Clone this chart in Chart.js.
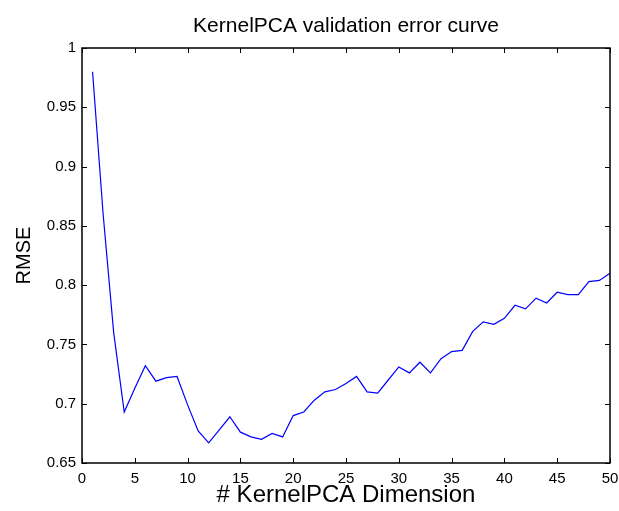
<!DOCTYPE html>
<html>
<head>
<meta charset="utf-8">
<script src="https://cdn.jsdelivr.net/npm/chart.js@4.4.0/dist/chart.umd.min.js"></script>
<style>
  body { margin: 0; background: #fff; }
  canvas { display: block; }
</style>
</head>
<body>
<canvas id="chart" width="619" height="511"></canvas>
<script>
// data
const dims = [];
for (let i = 1; i <= 50; i++) dims.push(i);
const rmse = [
  0.980, 0.860, 0.760, 0.693, 0.713, 0.732, 0.719, 0.722, 0.723, 0.699,
  0.677, 0.667, 0.678, 0.689, 0.676, 0.672, 0.670, 0.675, 0.672, 0.690,
  0.693, 0.703, 0.710, 0.712, 0.717, 0.723, 0.710, 0.709, 0.720, 0.731,
  0.726, 0.735, 0.726, 0.738, 0.744, 0.745, 0.761, 0.769, 0.767, 0.772,
  0.783, 0.780, 0.789, 0.785, 0.794, 0.792, 0.792, 0.803, 0.804, 0.810
];
const xTicks = [0, 5, 10, 15, 20, 25, 30, 35, 40, 45, 50];
const yTicks = [0.65, 0.7, 0.75, 0.8, 0.85, 0.9, 0.95, 1];

const FONT = "'Liberation Sans', Arial, sans-serif";

// matlab style box with inward ticks on all four sides
const boxTicks = {
  id: 'boxTicks',
  afterDatasetsDraw(chart) {
    const { ctx, chartArea: a, scales: { x, y } } = chart;
    ctx.save();
    ctx.strokeStyle = '#000';
    ctx.lineWidth = 1.5;
    ctx.strokeRect(a.left, a.top, a.right - a.left, a.bottom - a.top);
    ctx.lineWidth = 1;
    ctx.beginPath();
    xTicks.forEach(v => {
      const px = Math.round(x.getPixelForValue(v)) + 0.5;
      ctx.moveTo(px, a.bottom); ctx.lineTo(px, a.bottom - 5);
      ctx.moveTo(px, a.top); ctx.lineTo(px, a.top + 5);
    });
    yTicks.forEach(v => {
      const py = Math.round(y.getPixelForValue(v)) + 0.5;
      ctx.moveTo(a.left, py); ctx.lineTo(a.left + 5, py);
      ctx.moveTo(a.right, py); ctx.lineTo(a.right - 5, py);
    });
    ctx.stroke();
    ctx.restore();
  }
};

new Chart(document.getElementById('chart'), {
  type: 'line',
  data: {
    datasets: [{
      data: dims.map((d, i) => ({ x: d, y: rmse[i] })),
      borderColor: '#0000ff',
      borderWidth: 1.2,
      pointRadius: 0,
      tension: 0,
      fill: false
    }]
  },
  options: {
    responsive: false,
    animation: false,
    devicePixelRatio: 1,
    layout: { padding: { left: 0, right: 9, top: 0, bottom: 0 } },
    plugins: {
      legend: { display: false },
      tooltip: { enabled: false },
      title: {
        display: true,
        fullSize: false,
        text: 'KernelPCA validation error curve',
        color: '#000',
        font: { family: FONT, size: 21, weight: 'normal' },
        padding: { top: 14, bottom: 8.8 }
      }
    },
    scales: {
      x: {
        type: 'linear',
        min: 0,
        max: 50,
        afterBuildTicks: s => { s.ticks = xTicks.map(v => ({ value: v })); },
        afterFit: s => { s.height = 48; s.paddingLeft = 0; s.paddingRight = 0; },
        grid: { display: false, drawTicks: false },
        border: { display: false },
        ticks: {
          color: '#000',
          padding: 7,
          maxRotation: 0,
          font: { family: FONT, size: 15 },
          callback: v => String(v)
        },
        title: {
          display: true,
          text: '# KernelPCA Dimension',
          color: '#000',
          font: { family: FONT, size: 24 },
          padding: { top: 0, bottom: 1.5 }
        }
      },
      y: {
        min: 0.65,
        max: 1,
        afterBuildTicks: s => { s.ticks = yTicks.map(v => ({ value: v })); },
        afterFit: s => { s.width = 82; s.paddingTop = 0; s.paddingBottom = 0; },
        grid: { display: false, drawTicks: false },
        border: { display: false },
        ticks: {
          color: '#000',
          padding: 6,
          font: { family: FONT, size: 15 },
          callback: v => String(Number(v.toFixed(2)))
        },
        title: {
          display: true,
          text: 'RMSE',
          color: '#000',
          font: { family: FONT, size: 20 },
          padding: { top: 12, bottom: 0 }
        }
      }
    }
  },
  plugins: [boxTicks]
});
</script>
</body>
</html>
